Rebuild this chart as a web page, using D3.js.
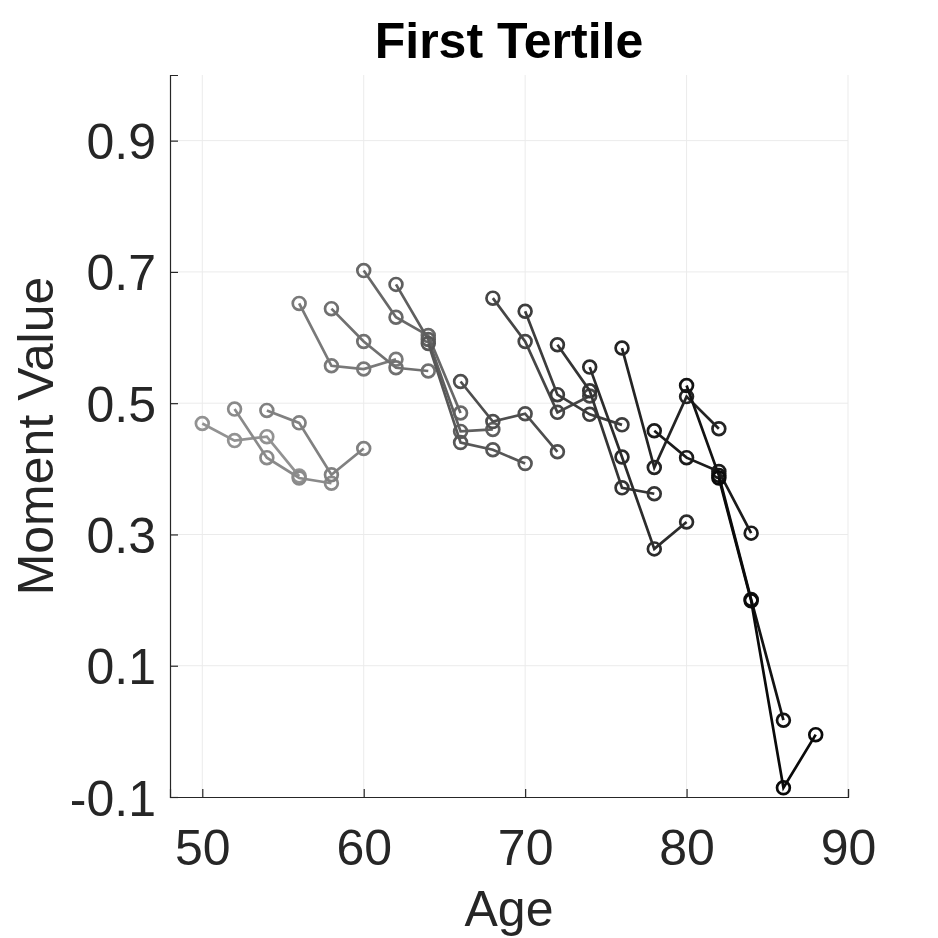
<!DOCTYPE html>
<html>
<head>
<meta charset="utf-8">
<script src="https://cdn.jsdelivr.net/npm/d3@7"></script>
<style>
  body { margin: 0; background: #fff; }
  text { font-family: "Liberation Sans", Arial, Helvetica, sans-serif; fill: #262626; }
</style>
</head>
<body>
<div id="chart"></div>
<script>
// cohort start ages (each cohort observed at 4 ages, two years apart)
const cohortStarts = [50, 52, 54, 56, 58, 60, 62, 64, 66, 68, 70, 72, 74, 76, 78, 80, 82];
const ageStep = 2;

// moment values per cohort
const c50 = [0.469, 0.443, 0.449, 0.389];
const c52 = [0.491, 0.417, 0.386, 0.378];
const c54 = [0.489, 0.470, 0.391, 0.431];
const c56 = [0.652, 0.557, 0.552, 0.567];
const c58 = [0.644, 0.594, 0.554, 0.549];
const c60 = [0.702, 0.631, 0.603, 0.485];
const c62 = [0.681, 0.597, 0.457, 0.460];
const c64 = [0.591, 0.440, 0.429, 0.408];
const c66 = [0.533, 0.472, 0.484, 0.426];
const c68 = [0.660, 0.594, 0.486, 0.511];
const c70 = [0.640, 0.513, 0.483, 0.467];
const c72 = [0.589, 0.519, 0.371, 0.362];
const c74 = [0.555, 0.418, 0.278, 0.319];
const c76 = [0.584, 0.402, 0.510, 0.461];
const c78 = [0.458, 0.417, 0.396, 0.302];
const c80 = [0.527, 0.390, 0.201, 0.017];
const c82 = [0.386, 0.199, -0.086, -0.005];

const cohortValues = [c50, c52, c54, c56, c58, c60, c62, c64, c66, c68, c70, c72, c74, c76, c78, c80, c82];

const xTicks = [50, 60, 70, 80, 90];
const yTicks = [-0.1, 0.1, 0.3, 0.5, 0.7, 0.9];

const W = 938, H = 938;
const margin = {top: 75, right: 90, bottom: 141, left: 170};
const width = W - margin.left - margin.right;
const height = H - margin.top - margin.bottom;

const svg = d3.select("#chart").append("svg")
    .attr("width", W)
    .attr("height", H);

const g = svg.append("g")
    .attr("transform", `translate(${margin.left},${margin.top})`);

const x = d3.scaleLinear().domain([48, 90]).range([0, width]);
const y = d3.scaleLinear().domain([-0.1, 1.0]).range([height, 0]);

// gray shade per cohort, light for young, black for old
const shade = d3.scaleLinear()
    .domain([0, cohortStarts.length - 1])
    .range(["#929292", "#0a0a0a"]);

// grid
g.append("g").selectAll("line")
    .data(xTicks)
    .enter().append("line")
    .attr("x1", d => x(d)).attr("x2", d => x(d))
    .attr("y1", 0).attr("y2", height)
    .attr("stroke", "#ebebeb").attr("stroke-width", 1);

g.append("g").selectAll("line")
    .data(yTicks.filter(d => d > -0.1))
    .enter().append("line")
    .attr("x1", 0).attr("x2", width)
    .attr("y1", d => y(d)).attr("y2", d => y(d))
    .attr("stroke", "#ebebeb").attr("stroke-width", 1);

// axes
const xAxis = d3.axisBottom(x).tickValues(xTicks).tickSize(-8).tickPadding(32).tickFormat(d => String(d));
const yAxis = d3.axisLeft(y).tickValues(yTicks).tickSize(-8).tickPadding(14).tickFormat(d => d.toFixed(1));

const gx = g.append("g")
    .attr("transform", `translate(0,${height})`)
    .call(xAxis);
const gy = g.append("g").call(yAxis);

[gx, gy].forEach(a => {
    a.select(".domain").attr("stroke", "#262626").attr("stroke-width", 1.2);
    a.selectAll(".tick line").attr("stroke", "#262626").attr("stroke-width", 1.2);
    a.selectAll(".tick text")
        .attr("fill", "#262626")
        .style("font-size", "50px")
        .style("font-family", "'Liberation Sans', Arial, sans-serif");
});
gy.selectAll(".tick text").attr("dy", "0.36em");

// cohort lines and markers
const line = d3.line()
    .x(d => x(d.age))
    .y(d => y(d.value));

cohortValues.forEach((vals, i) => {
    const pts = vals.map((v, j) => ({age: cohortStarts[i] + j * ageStep, value: v}));
    const col = shade(i);
    const cg = g.append("g").attr("class", "cohort");

    cg.append("path")
        .datum(pts)
        .attr("d", line)
        .attr("fill", "none")
        .attr("stroke", col)
        .attr("stroke-width", 2.7);

    cg.selectAll("circle")
        .data(pts)
        .enter().append("circle")
        .attr("cx", d => x(d.age))
        .attr("cy", d => y(d.value))
        .attr("r", 6.4)
        .attr("fill", "none")
        .attr("stroke", col)
        .attr("stroke-width", 2.7);
});

// title and labels
svg.append("text")
    .attr("x", margin.left + width / 2)
    .attr("y", 58)
    .attr("text-anchor", "middle")
    .style("font-size", "50px")
    .style("font-weight", "bold")
    .style("fill", "#000")
    .text("First Tertile");

svg.append("text")
    .attr("x", margin.left + width / 2)
    .attr("y", 926)
    .attr("text-anchor", "middle")
    .style("font-size", "50px")
    .text("Age");

svg.append("text")
    .attr("transform", `translate(53,${margin.top + height / 2}) rotate(-90)`)
    .attr("text-anchor", "middle")
    .style("font-size", "50px")
    .text("Moment Value");
</script>
</body>
</html>
